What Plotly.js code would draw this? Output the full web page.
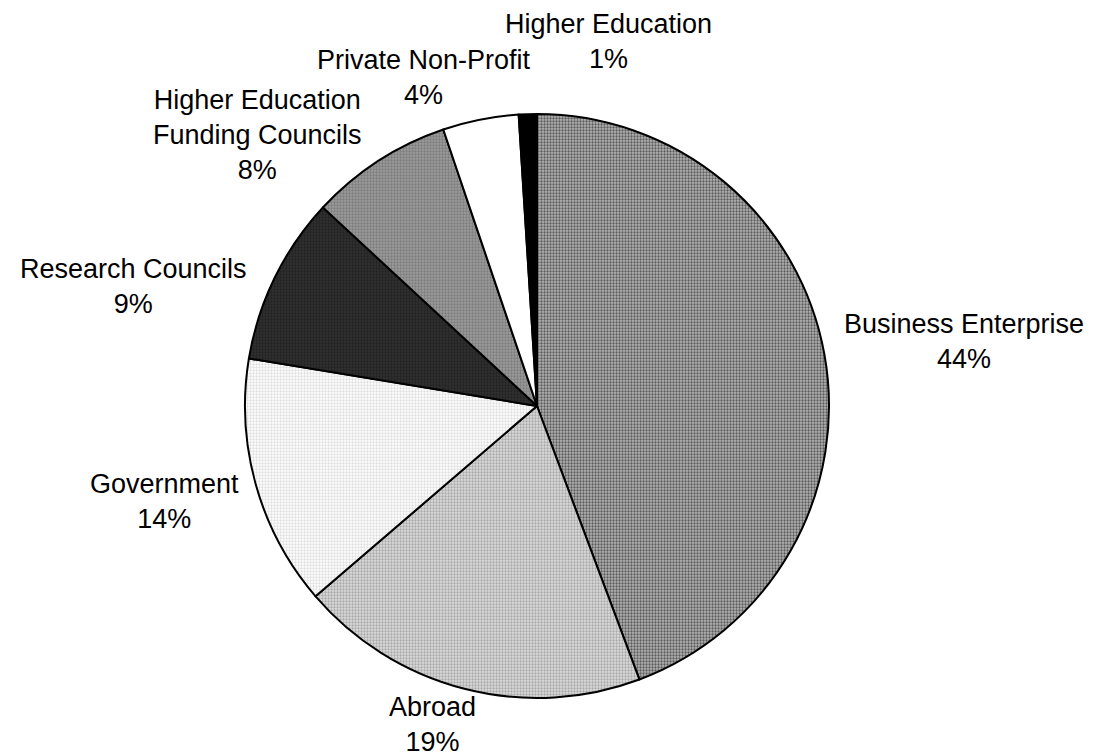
<!DOCTYPE html>
<html>
<head>
<meta charset="utf-8">
<script src="https://cdn.plot.ly/plotly-3.0.1.min.js"></script>
<style>html,body{margin:0;padding:0;background:#fff;}#chart{width:1098px;height:756px;}</style>
</head>
<body>
<div id="chart"></div>
<script>
const categories = ["Business Enterprise", "Abroad", "Government", "Research Councils", "Higher Education<br>Funding Councils", "Private Non-Profit", "Higher Education"];
const values = [44.3, 19.4, 13.9, 9.3, 7.9, 4.2, 1.0];
const fillColors = ["#8c8c8c", "#c8c8c8", "#f6f6f6", "#2c2c2c", "#8e8e8e", "#ffffff", "#000000"];
const patternBg = ["#b4b4b4", "#dcdcdc", "#ffffff", "#303030", "#9c9c9c", "#ffffff", "#000000"];
const patternFg = ["#5a5a5a", "#a8a8a8", "#dedede", "#222222", "#7c7c7c", "#ffffff", "#000000"];
const patternShape = [".", ".", ".", ".", ".", "", ""];

// label block centres (pixels) in the page
const labelPosPx = [[964, 341], [432, 724], [164, 501], [133, 286], [257, 135], [424, 77], [608, 42]];

const W = 1098, H = 756;
const M = {l: 0, r: 24, t: 114, b: 58};
const plotW = W - M.l - M.r, plotH = H - M.t - M.b;
const total = values.reduce((a, b) => a + b, 0);

const trace = {
  type: "pie",
  labels: categories,
  values: values,
  sort: false,
  direction: "clockwise",
  rotation: 0,
  textinfo: "none",
  marker: {
    colors: fillColors,
    line: {color: "#000", width: 2},
    pattern: {shape: patternShape, bgcolor: patternBg, fgcolor: patternFg, size: 3, solidity: 0.45}
  },
  hoverinfo: "label+percent",
  showlegend: false
};

const annotations = categories.map((c, i) => ({
  xref: "paper", yref: "paper",
  x: (labelPosPx[i][0] - M.l) / plotW,
  y: 1 - (labelPosPx[i][1] - M.t) / plotH,
  xanchor: "center", yanchor: "middle", align: "center",
  showarrow: false,
  text: c + "<br>" + Math.round(values[i] / total * 100) + "%",
  font: {family: "Liberation Sans, Arial, sans-serif", size: 27, color: "#000"}
}));

const layout = {
  width: W, height: H,
  margin: M,
  paper_bgcolor: "#fff", plot_bgcolor: "#fff",
  showlegend: false,
  annotations: annotations
};

Plotly.newPlot("chart", [trace], layout, {displayModeBar: false});
</script>
</body>
</html>
